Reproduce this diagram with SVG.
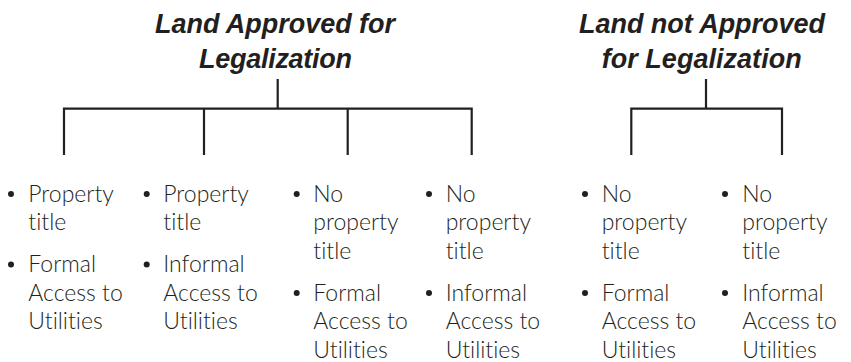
<svg xmlns="http://www.w3.org/2000/svg" width="851" height="362" viewBox="0 0 851 362">
<style>
.h{font-family:"Liberation Sans",Arial,sans-serif;font-weight:bold;font-style:italic;font-size:27px;fill:#231f20;text-anchor:middle}
.t{font-family:Lato,"Liberation Sans",sans-serif;font-weight:300;font-size:23px;fill:#231f20;font-variant-ligatures:none}
.d{fill:#231f20}
.c{fill:none;stroke:#231f20;stroke-width:2.2}
</style>
<rect width="851" height="362" fill="#fff"/>
<g id="title-approved">
<text class="h" x="275" y="32.5" textLength="240">Land Approved for</text>
<text class="h" x="275.5" y="68" textLength="153">Legalization</text>
</g>
<g id="title-not-approved">
<text class="h" x="702" y="32.5" textLength="246">Land not Approved</text>
<text class="h" x="701.7" y="68" textLength="200">for Legalization</text>
</g>
<g id="connectors">
<path class="c" d="M277.7 79V108.7M64 155V108.7H471.7V155M204 108.7V155M347.7 108.7V155"/>
<path class="c" d="M706 79V108.7M631.3 155V108.7H782V155"/>
</g>
<g id="col1">
<circle class="d" cx="11" cy="194" r="3"/>
<text class="t" x="28.3" y="201.5">Property</text>
<text class="t" x="28.3" y="230">title</text>
<circle class="d" cx="11" cy="264.5" r="3"/>
<text class="t" x="28.3" y="272">Formal</text>
<text class="t" x="28.3" y="300.5">Access to</text>
<text class="t" x="28.3" y="329">Utilities</text>
</g>
<g id="col2">
<circle class="d" cx="146.7" cy="194" r="3"/>
<text class="t" x="163.3" y="201.5">Property</text>
<text class="t" x="163.3" y="230">title</text>
<circle class="d" cx="146.7" cy="264.5" r="3"/>
<text class="t" x="163.3" y="272">Informal</text>
<text class="t" x="163.3" y="300.5">Access to</text>
<text class="t" x="163.3" y="329">Utilities</text>
</g>
<g id="col3">
<circle class="d" cx="296.7" cy="194" r="3"/>
<text class="t" x="313.3" y="201.5">No</text>
<text class="t" x="313.3" y="230">property</text>
<text class="t" x="313.3" y="258.5">title</text>
<circle class="d" cx="296.7" cy="293" r="3"/>
<text class="t" x="313.3" y="300.5">Formal</text>
<text class="t" x="313.3" y="329">Access to</text>
<text class="t" x="313.3" y="357.5">Utilities</text>
</g>
<g id="col4">
<circle class="d" cx="429" cy="194" r="3"/>
<text class="t" x="445.7" y="201.5">No</text>
<text class="t" x="445.7" y="230">property</text>
<text class="t" x="445.7" y="258.5">title</text>
<circle class="d" cx="429" cy="293" r="3"/>
<text class="t" x="445.7" y="300.5">Informal</text>
<text class="t" x="445.7" y="329">Access to</text>
<text class="t" x="445.7" y="357.5">Utilities</text>
</g>
<g id="col5">
<circle class="d" cx="585" cy="194" r="3"/>
<text class="t" x="601.7" y="201.5">No</text>
<text class="t" x="601.7" y="230">property</text>
<text class="t" x="601.7" y="258.5">title</text>
<circle class="d" cx="585" cy="293" r="3"/>
<text class="t" x="601.7" y="300.5">Formal</text>
<text class="t" x="601.7" y="329">Access to</text>
<text class="t" x="601.7" y="357.5">Utilities</text>
</g>
<g id="col6">
<circle class="d" cx="725" cy="194" r="3"/>
<text class="t" x="742.3" y="201.5">No</text>
<text class="t" x="742.3" y="230">property</text>
<text class="t" x="742.3" y="258.5">title</text>
<circle class="d" cx="725" cy="293" r="3"/>
<text class="t" x="742.3" y="300.5">Informal</text>
<text class="t" x="742.3" y="329">Access to</text>
<text class="t" x="742.3" y="357.5">Utilities</text>
</g>
</svg>
